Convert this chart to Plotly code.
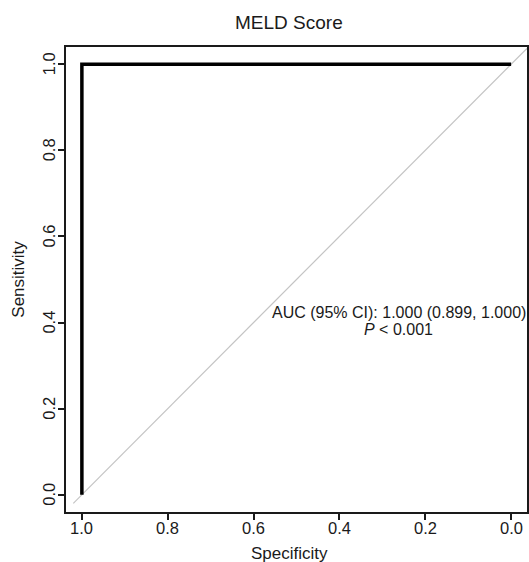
import plotly.graph_objects as go

# ROC curve data
specificity = [1.0, 1.0, 0.0]
sensitivity = [0.0, 1.0, 1.0]
diag_x = [1.02, -0.04]
diag_y = [-0.02, 1.04]
tick_vals = [0.0, 0.2, 0.4, 0.6, 0.8, 1.0]
tick_text = ["0.0", "0.2", "0.4", "0.6", "0.8", "1.0"]
title_text = "MELD Score"
auc_text = "AUC (95% CI): 1.000 (0.899, 1.000)"
p_text = "<i>P</i> < 0.001"

FONT = "Liberation Sans, Arial, sans-serif"
INK = "#1a1a1a"

fig = go.Figure()
fig.add_trace(go.Scatter(x=diag_x, y=diag_y, mode="lines",
                         line=dict(color="#c4c4c4", width=1.2), hoverinfo="skip", showlegend=False))
fig.add_trace(go.Scatter(x=specificity, y=sensitivity, mode="lines",
                         line=dict(color="#000000", width=3.5), showlegend=False))

axis_common = dict(showgrid=False, zeroline=False, showline=True, mirror=True,
                   linecolor=INK, linewidth=2, ticks="outside", ticklen=6, tickwidth=1.5,
                   tickcolor=INK, tickvals=tick_vals, showticklabels=False)

fig.update_layout(
    width=529, height=562,
    margin=dict(l=66, r=0, t=47, b=50),
    paper_bgcolor="white", plot_bgcolor="white",
    xaxis=dict(range=[1.037, -0.037], **axis_common),
    yaxis=dict(range=[-0.04, 1.04], **axis_common),
    font=dict(family=FONT, color=INK),
)

# tick labels
for v, t in zip(tick_vals, tick_text):
    fig.add_annotation(text=t, x=v, xref="x", y=0, yref="paper", yshift=-15.5,
                       showarrow=False, xanchor="center", yanchor="middle",
                       font=dict(family=FONT, size=16.5, color=INK))
    fig.add_annotation(text=t, y=v, yref="y", x=0, xref="paper", xshift=-17,
                       showarrow=False, xanchor="center", yanchor="middle", textangle=-90,
                       font=dict(family=FONT, size=16.5, color=INK))

fig.add_annotation(text=title_text, xref="paper", yref="paper", x=0.484, y=1 + 25 / 465,
                   showarrow=False, xanchor="center", yanchor="middle",
                   font=dict(family=FONT, size=19, color=INK))
fig.add_annotation(text="Specificity", xref="paper", yref="paper", x=0.484, y=-41 / 465,
                   showarrow=False, xanchor="center", yanchor="middle",
                   font=dict(family=FONT, size=17, color=INK))
fig.add_annotation(text="Sensitivity", xref="paper", yref="paper", x=-48 / 463, y=0.5,
                   showarrow=False, xanchor="center", yanchor="middle", textangle=-90,
                   font=dict(family=FONT, size=17, color=INK))
fig.add_annotation(text=auc_text, x=0.262, y=0.423, xref="x", yref="y",
                   showarrow=False, xanchor="center", yanchor="middle",
                   font=dict(family=FONT, size=16, color=INK))
fig.add_annotation(text=p_text, x=0.262, y=0.384, xref="x", yref="y",
                   showarrow=False, xanchor="center", yanchor="middle",
                   font=dict(family=FONT, size=16, color=INK))

fig.write_html("out.html")
